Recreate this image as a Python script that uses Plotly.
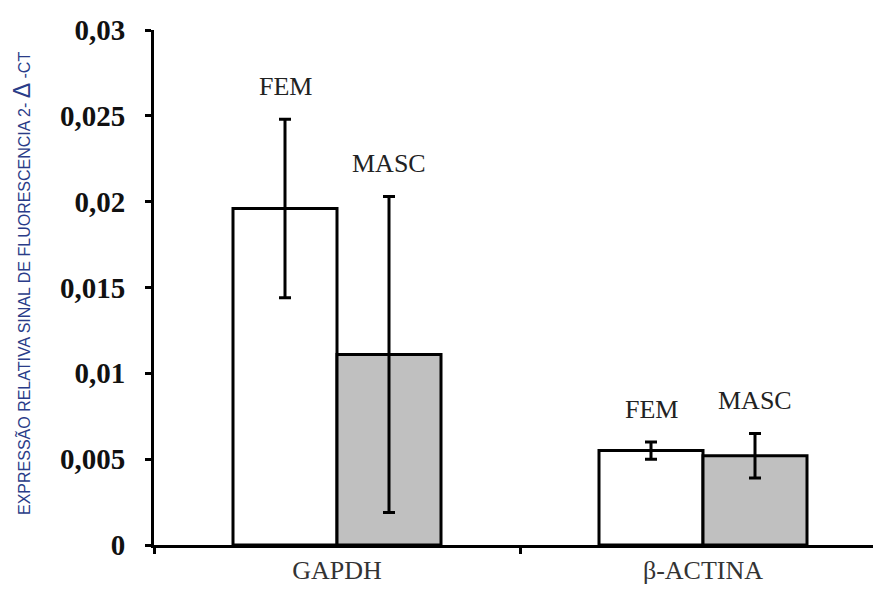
import plotly.graph_objects as go

# Relative expression (2^-ΔCT) by gene and sex
categories = ["GAPDH", "β-ACTINA"]
fem_values = [0.0196, 0.0055]
fem_errors = [0.0052, 0.0005]
masc_values = [0.0111, 0.0052]
masc_errors = [0.0092, 0.0013]
group_labels = ["FEM", "MASC"]
y_tickvals = [0, 0.005, 0.01, 0.015, 0.02, 0.025, 0.03]
y_ticktext = ["0", "0,005", "0,01", "0,015", "0,02", "0,025", "0,03"]

W, H = 873, 590
M_L, M_T, M_B = 154, 30, 45
CAT_PX = 366          # pixel width of one category slot
BARGAP = 0.4317

fig = go.Figure()
for name, vals, errs, fill in [
    ("FEM", fem_values, fem_errors, "#FFFFFF"),
    ("MASC", masc_values, masc_errors, "#C0C0C0"),
]:
    fig.add_trace(go.Bar(
        name=name,
        x=categories,
        y=vals,
        marker=dict(color=fill, line=dict(color="#000000", width=3)),
        error_y=dict(type="data", array=errs, visible=True,
                     color="#000000", thickness=3, width=6),
        showlegend=False,
    ))

# Series labels above each error bar
half = (1 - BARGAP) / 4
for series, (vals, errs) in zip(group_labels, [(fem_values, fem_errors), (masc_values, masc_errors)]):
    off = -half if series == "FEM" else half
    for i, (v, e) in enumerate(zip(vals, errs)):
        fig.add_annotation(
            x=i + off, y=v + e, xref="x", yref="y",
            text=series, showarrow=False, yshift=33,
            yanchor="middle", xanchor="center",
            font=dict(family="Liberation Serif, DejaVu Serif, serif", size=26, color="#222222"),
        )

# Rotated y-axis title
fig.add_annotation(
    xref="paper", yref="paper",
    x=(22 - M_L) / (W - M_L), y=(H - M_B - 284) / (H - M_T - M_B),
    xanchor="center", yanchor="middle", textangle=-90, showarrow=False,
    text="EXPRESSÃO RELATIVA SINAL DE FLUORESCENCIA 2- <span style='font-size:23px'>Δ</span> -CT",
    font=dict(family="Liberation Sans Narrow, Liberation Sans, Arial, sans-serif", size=16, color="#2A3C88"),
)

x_end = -0.5 + (W - M_L) / CAT_PX

fig.update_layout(
    width=W, height=H,
    margin=dict(l=M_L, r=0, t=M_T, b=M_B),
    paper_bgcolor="#FFFFFF", plot_bgcolor="#FFFFFF",
    barmode="group", bargap=BARGAP, bargroupgap=0,
    xaxis=dict(
        type="category", categoryorder="array", categoryarray=categories,
        range=[-0.5, x_end], showgrid=False, zeroline=False,
        showline=True, linecolor="#000000", linewidth=3,
        ticks="outside", tickson="boundaries", ticklen=6, tickwidth=3, tickcolor="#000000",
        tickfont=dict(family="Liberation Serif, DejaVu Serif, serif", size=26, color="#333333"),
    ),
    yaxis=dict(
        range=[0, 0.03], tickvals=y_tickvals, ticktext=y_ticktext,
        showgrid=False, zeroline=False,
        showline=True, linecolor="#000000", linewidth=3,
        ticks="outside", ticklen=6, tickwidth=3, tickcolor="#000000",
        ticklabelstandoff=14,
        tickfont=dict(family="Liberation Serif, Times New Roman, serif", size=29, color="#111111", weight="bold"),
    ),
)

fig.write_html("out.html")
